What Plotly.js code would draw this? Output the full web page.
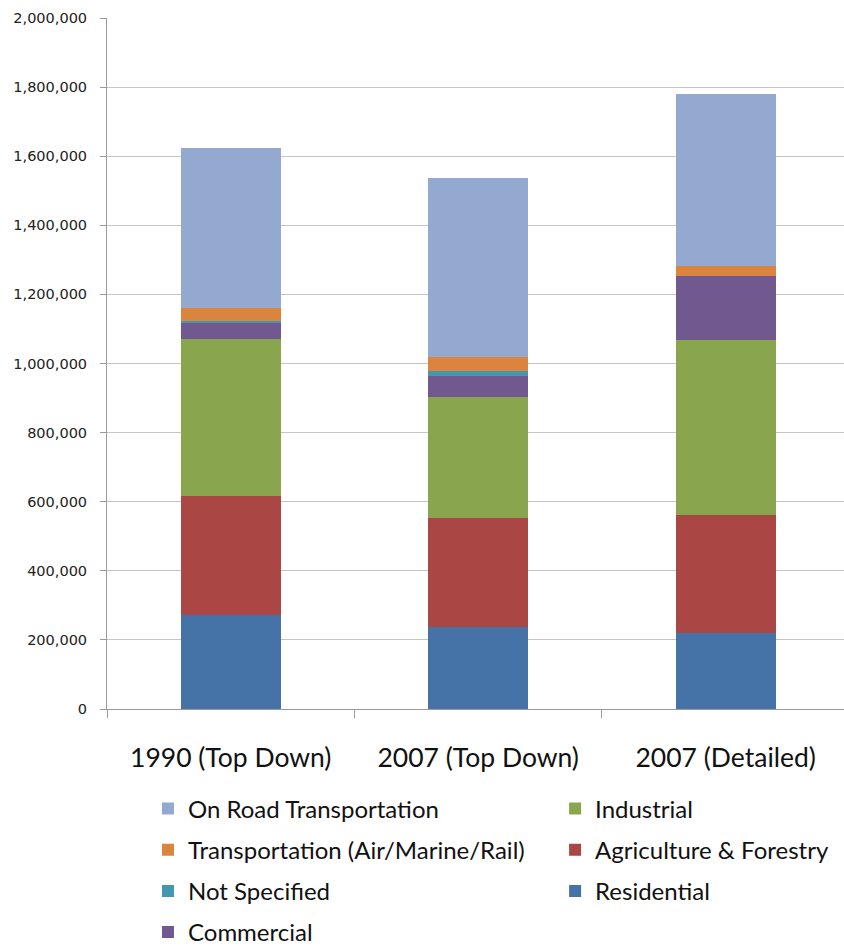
<!DOCTYPE html>
<html>
<head>
<meta charset="utf-8">
<script src="https://cdn.plot.ly/plotly-3.0.1.min.js"></script>
<style>html,body{margin:0;padding:0;background:#fff;}#chart{width:844px;height:948px;}</style>
</head>
<body>
<div id="chart"></div>
<script>
// Categories and series
const categories = ["1990 (Top Down)", "2007 (Top Down)", "2007 (Detailed)"];
const residential = [271000, 238000, 219000];
const agricultureForestry = [346000, 315000, 342000];
const industrial = [454000, 351000, 507000];
const commercial = [45000, 61000, 185000];
const notSpecified = [8000, 14000, 0];
const transportationAMR = [38000, 41000, 29000];
const onRoadTransportation = [463000, 516000, 499000];
const yTickValues = [0, 200000, 400000, 600000, 800000, 1000000, 1200000, 1400000, 1600000, 1800000, 2000000];

const seriesDefs = [
  {name: "Residential", y: residential, color: "#4572A7", legend: "legend2", rank: 3},
  {name: "Agriculture & Forestry", y: agricultureForestry, color: "#AA4643", legend: "legend2", rank: 2},
  {name: "Industrial", y: industrial, color: "#89A54E", legend: "legend2", rank: 1},
  {name: "Commercial", y: commercial, color: "#71588F", legend: "legend", rank: 4},
  {name: "Not Specified", y: notSpecified, color: "#4198AF", legend: "legend", rank: 3},
  {name: "Transportation (Air/Marine/Rail)", y: transportationAMR, color: "#DB843D", legend: "legend", rank: 2},
  {name: "On Road Transportation", y: onRoadTransportation, color: "#93A9CF", legend: "legend", rank: 1}
];

const traces = seriesDefs.map(s => ({
  type: "bar",
  name: s.name,
  x: categories,
  y: s.y,
  marker: {color: s.color, line: {width: 0}},
  legend: s.legend,
  legendgroup: s.name,
  legendrank: s.rank,
  hoverinfo: "name+y"
}));

const legendFont = {family: "Lato, 'Open Sans', sans-serif", size: 24, color: "#111"};
const layout = {
  width: 844,
  height: 948,
  margin: {l: 107, r: 0, t: 18, b: 239, autoexpand: false},
  paper_bgcolor: "#fff",
  plot_bgcolor: "#fff",
  barmode: "stack",
  bargap: 0.596,
  showlegend: true,
  xaxis: {
    type: "category",
    range: [-0.5, 2.478],
    tickson: "boundaries",
    ticks: "outside",
    ticklen: 8,
    tickcolor: "#9a9a9a",
    showline: true,
    linecolor: "#9a9a9a",
    linewidth: 1,
    showgrid: false,
    ticklabelstandoff: 25,
    tickfont: {family: "Lato, 'Open Sans', sans-serif", size: 26.5, color: "#111"}
  },
  yaxis: {
    range: [0, 2000000],
    tickvals: yTickValues,
    tickformat: ",d",
    ticks: "outside",
    ticklen: 6,
    tickcolor: "#9a9a9a",
    showline: true,
    linecolor: "#9a9a9a",
    linewidth: 1,
    showgrid: true,
    gridcolor: "#c4c4c4",
    gridwidth: 1,
    zeroline: false,
    ticklabelstandoff: 10,
    tickfont: {family: "'DejaVu Sans', Verdana, sans-serif", size: 14.5, color: "#222"}
  },
  legend: {
    orientation: "v",
    x: 0.0556, xanchor: "left",
    y: -0.112, yanchor: "top",
    traceorder: "grouped",
    tracegroupgap: 7,
    font: legendFont,
    bgcolor: "rgba(0,0,0,0)"
  },
  legend2: {
    orientation: "v",
    x: 0.608, xanchor: "left",
    y: -0.112, yanchor: "top",
    traceorder: "grouped",
    tracegroupgap: 7,
    font: legendFont,
    bgcolor: "rgba(0,0,0,0)"
  }
};

Plotly.newPlot("chart", traces, layout, {displayModeBar: false, staticPlot: true});
</script>
</body>
</html>
